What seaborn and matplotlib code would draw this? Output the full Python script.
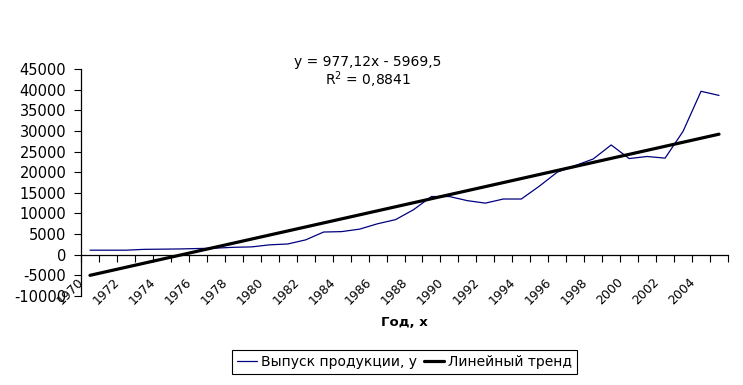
import numpy as np
import pandas as pd
import matplotlib
matplotlib.use('Agg')
import matplotlib.pyplot as plt
import matplotlib.transforms as mtransforms
import seaborn as sns

# values
years = list(range(1970, 2006))
output = [1100, 1100, 1100, 1300, 1350, 1400, 1500, 1600, 1800, 1900,
          2400, 2600, 3600, 5500, 5600, 6200, 7500, 8500, 10900, 14100,
          14100, 13100, 12500, 13500, 13500, 16600, 20000, 21600, 23200, 26600,
          23300, 23800, 23400, 29900, 39600, 38600]
trend_slope = 977.12
trend_intercept = -5969.5
y_ticks = list(range(-10000, 45001, 5000))
x_labels = [str(y) for y in years[::2] if y < 2005]

df = pd.DataFrame({'year': years, 'output': output})
df['t'] = np.arange(1, len(df) + 1)
df['trend'] = trend_slope * df['t'] + trend_intercept

sns.set_style('ticks')
plt.rcParams['font.family'] = ['DejaVu Sans']
plt.rcParams['font.size'] = 10.5
plt.rcParams['text.color'] = 'black'
plt.rcParams['xtick.color'] = 'black'
plt.rcParams['ytick.color'] = 'black'

fig = plt.figure(figsize=(7.43, 3.85), dpi=100)
ax = fig.add_axes([81 / 743, 1 - 296 / 385, 647 / 743, 227 / 385])

sns.lineplot(data=df, x='year', y='output', color='#000080', linewidth=0.9,
             ax=ax, label='Выпуск продукции, у')
sns.lineplot(data=df, x='year', y='trend', color='black', linewidth=2.3,
             ax=ax, label='Линейный тренд')

ax.set_xlim(1969.5, 2005.5)
ax.set_ylim(-10000, 45000)
ax.set_yticks(y_ticks)
ax.set_yticklabels([str(v) for v in y_ticks])

# tick marks between categories (major), year labels on categories (minor)
ax.set_xticks(np.arange(1969.5, 2006, 1))
ax.set_xticklabels([])
ax.set_xticks([int(s) for s in x_labels], x_labels, minor=True)
ax.tick_params(axis='x', which='minor', length=0, pad=15, labelsize=9, bottom=True)
ax.tick_params(axis='x', which='major', length=5, width=0.8, direction='out',
               color='black', bottom=True)
ax.tick_params(axis='y', length=5, width=0.8, direction='out', color='black',
               pad=5.5, labelsize=10.5, left=True)

for s in ['top', 'right']:
    ax.spines[s].set_visible(False)
ax.spines['bottom'].set_position(('data', 0))
for s in ['left', 'bottom']:
    ax.spines[s].set_color('black')
    ax.spines[s].set_linewidth(0.9)
ax.set_xlabel('')
ax.set_ylabel('')

fig.text(368 / 743, 1 - 62 / 385, 'y = 977,12x - 5969,5', ha='center', va='center', fontsize=10)
fig.text(368 / 743, 1 - 80 / 385, r'$\mathregular{R^2}$ = 0,8841', ha='center', va='center', fontsize=10)
fig.text(404 / 743, 1 - 322 / 385, 'Год, х', ha='center', va='center', weight='bold', fontsize=9.5)

ax.legend(loc='center', bbox_to_anchor=(0.5, (296 - 362) / 227), ncol=2,
          frameon=True, fancybox=False, edgecolor='black', framealpha=1,
          handlelength=1.45, columnspacing=0.5, handletextpad=0.3,
          borderpad=0.35, fontsize=10)
ax.get_legend().get_frame().set_linewidth(0.8)

fig.canvas.draw()
shift = mtransforms.ScaledTranslation(-12.7 / 100, 0, fig.dpi_scale_trans)
for lbl in ax.get_xticklabels(minor=True):
    lbl.set_rotation(45)
    lbl.set_ha('right')
    lbl.set_va('top')
    lbl.set_rotation_mode('anchor')
    lbl.set_transform(lbl.get_transform() + shift)

fig.savefig('out.png', dpi=100)
